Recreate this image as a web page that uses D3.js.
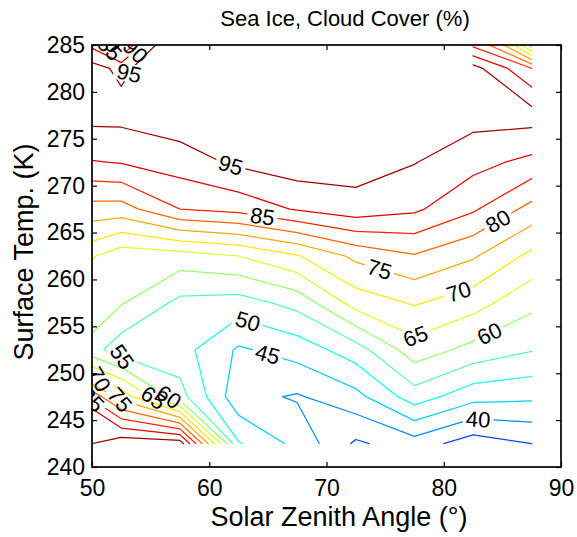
<!DOCTYPE html>
<html><head><meta charset="utf-8">
<script src="https://cdn.jsdelivr.net/npm/d3@7"></script>
<style>
body{margin:0;background:#fff;}
svg{display:block;font-family:"Liberation Sans",Arial,Helvetica,sans-serif;}
</style></head><body>
<svg id="chart" width="577" height="537"></svg>
<script>
// ---- data grid: solar zenith angle (columns) x surface temperature (rows) ----
const zenith = [47.5, 52.5, 57.5, 62.5, 67.5, 72.5, 77.5, 82.5, 87.5];
const temps  = [242.5, 247.5, 252.5, 257.5, 262.5, 267.5, 272.5, 277.5, 282.5, 287.5];
// cloud cover (%) for each temperature row
const cc242 = [91.6, 98.4, 97.8, 50.4, 43.5, 34.2, 37.7, 32.3, 35.0];
const cc247 = [94.0, 73.0, 57.0, 41.5, 39.5, 43.4, 52.6, 46.8, 46.0];
const cc252 = [62.0, 52.0, 52.0, 44.3, 47.1, 52.7, 62.8, 58.4, 55.3];
const cc257 = [64.4, 60.4, 53.7, 52.8, 56.7, 67.1, 70.5, 67.1, 61.3];
const cc262 = [68.9, 62.0, 62.8, 65.0, 69.6, 76.2, 79.6, 75.6, 68.7];
const cc267 = [78.1, 77.9, 85.0, 86.6, 90.5, 93.0, 90.9, 85.7, 78.3];
const cc272 = [89.1, 90.3, 92.5, 96.0, 98.0, 97.3, 95.2, 91.7, 88.6];
const cc277 = [96.6, 96.6, 98.2, 98.5, 99.0, 98.0, 97.5, 96.9, 97.3];
const cc282 = [99.0, 94.0, 99.6, 98.5, 98.5, 98.5, 97.5, 96.95, 85.2];
const cc287 = [86.8, 62.0, 95.1, NaN, NaN, NaN, NaN, 71.0, 30.0];
const levels = [35, 40, 45, 50, 55, 60, 65, 70, 75, 80, 85, 90, 95];
const xTicks = [50, 60, 70, 80, 90];
const yTicks = [240, 245, 250, 255, 260, 265, 270, 275, 280, 285];
// inline contour labels (level, approximate anchor in data units, optional fixed angle)
const labelLevel = [95, 85, 80, 75, 70, 65, 60, 50, 45, 40, 55, 70, 75, 65, 60, 85, 95, 90, 85, 80];
const labelX = [61.77, 64.5, 84.54, 74.56, 81.22, 77.55, 83.94, 63.3, 65.01, 82.92, 52.3, 50.43, 52.39, 55.2, 56.3, 49.66, 52.9, 53.1, 51.5, 50.7];
const labelY = [271.96, 266.4, 266.4, 261.27, 258.92, 254.11, 254.11, 255.5, 252.18, 244.81, 250.8, 248.87, 247.16, 247.2, 246.8, 246.52, 282.22, 285.3, 284.6, 283.9];
const labelAngle = [NaN, NaN, NaN, NaN, NaN, NaN, NaN, NaN, NaN, NaN, 55, 60, 50, 35, 35, 45, 12, 45, 48, 50];

const W = 577, H = 537;
const L = 92, R = 561, T = 45, B = 467;
const svg = d3.select("#chart");
const x = d3.scaleLinear().domain([50, 90]).range([L, R]);
const y = d3.scaleLinear().domain([240, 285]).range([B, T]);
const cnorm = d3.scaleLinear().domain([19.5, 97.5]).range([0, 1]);
function clamp(v){ return Math.max(0, Math.min(1, v)); }
function jet(v){
  const t = cnorm(v);
  const r = clamp(1.5 - Math.abs(4*t - 3)), g = clamp(1.5 - Math.abs(4*t - 2)), b = clamp(1.5 - Math.abs(4*t - 1));
  return d3.rgb(r*255, g*255, b*255).formatHex();
}

const rows = [cc242, cc247, cc252, cc257, cc262, cc267, cc272, cc277, cc282, cc287];
const nx = zenith.length, ny = temps.length;
const values = rows.flat();
const gx2x = d3.scaleLinear().domain([0, nx-1]).range([zenith[0], zenith[nx-1]]);
const gy2y = d3.scaleLinear().domain([0, ny-1]).range([temps[0], temps[ny-1]]);
const val = (i, j) => values[j*nx + i];

function interp(p, level){
  const px = p[0], py = p[1];
  let i0, j0, i1, j1, alongX;
  if (Number.isInteger(px)) {
    if (px <= 0 || px >= nx) return null;
    j0 = j1 = py - 0.5; i0 = px - 1; i1 = px; alongX = true;
  } else {
    if (py <= 0 || py >= ny) return null;
    i0 = i1 = px - 0.5; j0 = py - 1; j1 = py; alongX = false;
  }
  const v0 = val(i0, j0), v1 = val(i1, j1);
  if (!isFinite(v0) || !isFinite(v1)) return null;
  const t = (level - v0) / (v1 - v0);
  const gx = alongX ? i0 + t : i0;
  const gy = alongX ? j0 : j0 + t;
  return [x(gx2x(gx)), y(gy2y(gy))];
}
function splitRing(ring, level){
  const pts = ring.slice();
  const f = pts[0], l = pts[pts.length-1];
  if (pts.length > 1 && f[0] === l[0] && f[1] === l[1]) pts.pop();
  const m = pts.map(p => interp(p, level));
  const k = m.findIndex(p => p === null);
  if (k < 0) return [m.concat([m[0]])];
  const out = []; let cur = [];
  for (let s = 1; s <= m.length; s++) {
    const p = m[(k + s) % m.length];
    if (p === null) { if (cur.length > 1) out.push(cur); cur = []; }
    else cur.push(p);
  }
  if (cur.length > 1) out.push(cur);
  return out;
}

const contourGen = d3.contours().size([nx, ny]).smooth(false).thresholds(levels);
const polys = {};
contourGen(values).forEach(mp => {
  const lines = [];
  mp.coordinates.forEach(poly => poly.forEach(ring => splitRing(ring, mp.value).forEach(s => lines.push(s))));
  polys[mp.value] = lines;
});

const defs = svg.append("defs");
defs.append("clipPath").attr("id", "plotclip").append("rect")
  .attr("x", L).attr("y", T).attr("width", R - L).attr("height", B - T);

// label placement: snap to nearest point on the contour of that level
const labels = labelLevel.map((lv, i) => {
  const ax = x(labelX[i]), ay = y(labelY[i]);
  let best = null;
  (polys[lv] || []).forEach(line => {
    for (let k = 0; k < line.length - 1; k++) {
      const [x1, y1] = line[k], [x2, y2] = line[k+1];
      const dx = x2 - x1, dy = y2 - y1, len2 = dx*dx + dy*dy;
      let t = len2 ? ((ax - x1)*dx + (ay - y1)*dy) / len2 : 0;
      t = Math.max(0, Math.min(1, t));
      const qx = x1 + t*dx, qy = y1 + t*dy;
      const d = (qx - ax)**2 + (qy - ay)**2;
      if (!best || d < best.d) {
        let ang = Math.atan2(dy, dx) * 180 / Math.PI;
        if (ang > 90) ang -= 180; if (ang <= -90) ang += 180;
        best = {d, x: qx, y: qy, ang};
      }
    }
  });
  if (!best) best = {x: ax, y: ay, ang: 0};
  const ang = isNaN(labelAngle[i]) ? best.ang : labelAngle[i];
  return {level: lv, x: best.x, y: best.y, ang};
});

const fs = 22;
const labelG = svg.append("g").attr("clip-path", "url(#plotclip)");
labels.forEach(lb => {
  const t = labelG.append("text")
    .attr("transform", `translate(${lb.x},${lb.y}) rotate(${lb.ang})`)
    .attr("text-anchor", "middle").attr("dy", "0.36em")
    .attr("font-size", fs).attr("fill", "#000")
    .text(lb.level);
  lb.w = t.node().getComputedTextLength();
});

const contourG = svg.insert("g", "g").attr("clip-path", "url(#plotclip)");
levels.forEach(lv => {
  const mask = defs.append("mask").attr("id", "m" + lv)
    .attr("maskUnits", "userSpaceOnUse").attr("x", 0).attr("y", 0).attr("width", W).attr("height", H);
  mask.append("rect").attr("x", 0).attr("y", 0).attr("width", W).attr("height", H).attr("fill", "#fff");
  labels.filter(lb => lb.level === lv).forEach(lb => {
    mask.append("rect")
      .attr("x", -lb.w/2 - 3).attr("y", -9).attr("width", lb.w + 6).attr("height", 18)
      .attr("transform", `translate(${lb.x},${lb.y}) rotate(${lb.ang})`)
      .attr("fill", "#000");
  });
  const g = contourG.append("g").attr("mask", `url(#m${lv})`);
  g.selectAll("path").data(polys[lv] || []).join("path")
    .attr("d", d3.line())
    .attr("fill", "none").attr("stroke", jet(lv))
    .attr("stroke-width", 1.25).attr("stroke-linejoin", "round").attr("stroke-linecap", "round");
});

// axes
const axG = svg.append("g");
axG.append("g").attr("transform", `translate(0,${B})`)
  .call(d3.axisBottom(x).tickValues(xTicks).tickSize(-5).tickPadding(13).tickFormat(d3.format("d")));
axG.append("g").attr("transform", `translate(0,${T})`)
  .call(d3.axisTop(x).tickValues(xTicks).tickSize(-5).tickFormat(""));
axG.append("g").attr("transform", `translate(${L},0)`)
  .call(d3.axisLeft(y).tickValues(yTicks).tickSize(-5).tickPadding(7).tickFormat(d3.format("d")));
axG.append("g").attr("transform", `translate(${R},0)`)
  .call(d3.axisRight(y).tickValues(yTicks).tickSize(-5).tickFormat(""));
axG.selectAll(".domain").remove();
axG.selectAll(".tick line").attr("stroke", "#000").attr("stroke-width", 1.2);
axG.selectAll("text").attr("font-size", 23).attr("fill", "#000").attr("font-family", "Liberation Sans, Arial, sans-serif");
axG.append("rect").attr("x", L).attr("y", T).attr("width", R - L).attr("height", B - T)
  .attr("fill", "none").attr("stroke", "#000").attr("stroke-width", 1.7);

svg.append("text").attr("x", 345).attr("y", 26).attr("text-anchor", "middle")
  .attr("font-size", 22).text("Sea Ice, Cloud Cover (%)");
svg.append("text").attr("x", 339).attr("y", 526).attr("text-anchor", "middle")
  .attr("font-size", 27).text("Solar Zenith Angle (°)");
svg.append("text").attr("transform", `translate(33,252) rotate(-90)`).attr("text-anchor", "middle")
  .attr("font-size", 27).text("Surface Temp. (K)");
</script>
</body></html>
